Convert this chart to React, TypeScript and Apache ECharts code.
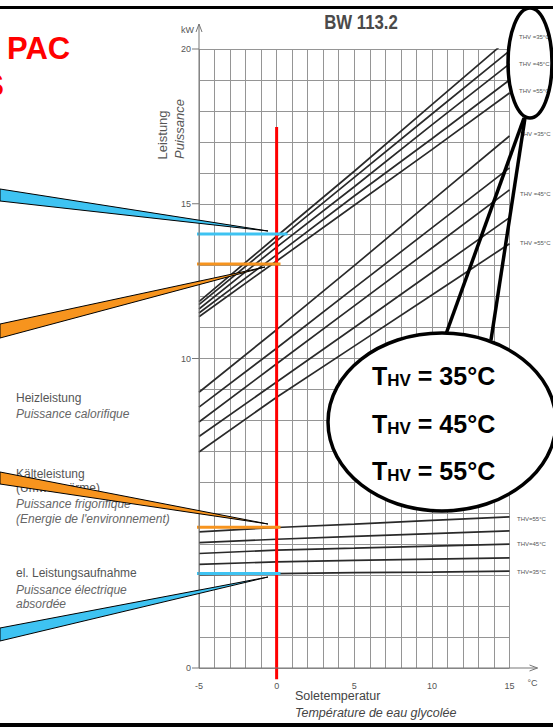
import React, { useEffect, useRef } from "react";
import * as echarts from "echarts";

// ---- data ----
const TEMPS = [-5, 0, 5, 10, 15];
const HEAT_UPPER_1 = [11.84, 13.95, 16.05, 18.2, 20.35];
const HEAT_UPPER_2 = [11.74, 13.8, 15.85, 17.9, 19.94];
const HEAT_UPPER_3 = [11.6, 13.6, 15.55, 17.55, 19.52];
const HEAT_UPPER_4 = [11.47, 13.35, 15.25, 17.1, 19.0];
const HEAT_UPPER_5 = [11.35, 13.15, 14.95, 16.75, 18.58];
const HEAT_LOWER_1 = [8.91, 10.93, 13.0, 15.1, 17.19];
const HEAT_LOWER_2 = [8.43, 10.33, 12.28, 14.22, 16.16];
const HEAT_LOWER_3 = [7.95, 9.83, 11.7, 13.57, 15.45];
const HEAT_LOWER_4 = [7.48, 9.24, 11.0, 12.78, 14.55];
const HEAT_LOWER_5 = [6.98, 8.75, 10.4, 12.05, 13.71];
const LOW_1 = [4.4, 4.54, 4.65, 4.77, 4.88];
const LOW_2 = [4.05, 4.16, 4.25, 4.34, 4.43];
const LOW_3 = [3.7, 3.81, 3.87, 3.94, 4.0];
const LOW_4 = [3.35, 3.43, 3.48, 3.52, 3.56];
const LOW_5 = [3.02, 3.05, 3.08, 3.1, 3.13];

const X_TICKS = [-5, 0, 5, 10, 15];
const Y_TICKS = [0, 10, 15, 20];

const RED_LINE = [[0, -0.36], [0, 17.48]];
const BLUE_HI = [[-7.48, 14.02], [0.7, 14.02]];
const ORANGE_HI = [[-8.0, 13.05], [0.25, 13.05]];
const ORANGE_LO = [[-8.0, 4.55], [0.25, 4.55]];
const BLUE_LO = [[-8.06, 3.05], [0.25, 3.05]];

const LABELS_UPPER = ["THV =35°C", "THV =45°C", "THV =55°C"];
const LABELS_LOWER = ["THV =35°C", "THV =45°C", "THV =55°C"];
const LABELS_BOTTOM = ["THV=55°C", "THV=45°C", "THV=35°C"];
const BUBBLE_TEMPS = ["35°C", "45°C", "55°C"];

const FONT = "'Liberation Sans', Arial, Helvetica, sans-serif";
const BLUE = "#3ec3f2";
const ORANGE = "#f7941e";

export default function App() {
  const ref = useRef<HTMLDivElement | null>(null);

  useEffect(() => {
    if (!ref.current) return;
    const chart = echarts.init(ref.current, null, { renderer: "svg" });

    const curve = (name: string, vals: number[]) => ({
      name,
      type: "line",
      data: TEMPS.map((t, i) => [t, vals[i]]),
      symbol: "none",
      silent: true,
      z: 2,
      lineStyle: { color: "#2a2a2a", width: 1.7 },
    });
    const mark = (name: string, pts: number[][], color: string, width: number, z: number) => ({
      name,
      type: "line",
      data: pts,
      symbol: "none",
      silent: true,
      clip: false,
      z,
      lineStyle: { color, width },
    });

    chart.setOption({
      animation: false,
      backgroundColor: "#fff",
      grid: { left: 199, top: 49, width: 310.5, height: 619 },
      xAxis: {
        type: "value",
        min: -5,
        max: 15,
        interval: 1,
        axisLine: { show: false },
        axisTick: { show: false },
        axisLabel: {
          formatter: (v: number) => (X_TICKS.includes(v) ? String(v) : ""),
          color: "#555",
          fontSize: 9,
          margin: 13,
          fontFamily: FONT,
        },
        splitLine: { show: true, lineStyle: { color: "#959595", width: 1 } },
      },
      yAxis: {
        type: "value",
        min: 0,
        max: 20,
        interval: 1,
        axisLine: { show: false },
        axisTick: { show: false },
        axisLabel: {
          formatter: (v: number) => (Y_TICKS.includes(v) ? String(v) : ""),
          color: "#555",
          fontSize: 9,
          margin: 8,
          fontFamily: FONT,
        },
        splitLine: { show: true, lineStyle: { color: "#959595", width: 1 } },
      },
      series: [
        curve("Heiz oben 1", HEAT_UPPER_1),
        curve("Heiz oben 2", HEAT_UPPER_2),
        curve("Heiz oben 3", HEAT_UPPER_3),
        curve("Heiz oben 4", HEAT_UPPER_4),
        curve("Heiz oben 5", HEAT_UPPER_5),
        curve("Heiz unten 1", HEAT_LOWER_1),
        curve("Heiz unten 2", HEAT_LOWER_2),
        curve("Heiz unten 3", HEAT_LOWER_3),
        curve("Heiz unten 4", HEAT_LOWER_4),
        curve("Heiz unten 5", HEAT_LOWER_5),
        curve("Kälte/el 1", LOW_1),
        curve("Kälte/el 2", LOW_2),
        curve("Kälte/el 3", LOW_3),
        curve("Kälte/el 4", LOW_4),
        curve("Kälte/el 5", LOW_5),
        mark("0°C", RED_LINE, "#ff0000", 3, 3),
        mark("Heiz 35", BLUE_HI, BLUE, 3, 4),
        mark("Heiz 55", ORANGE_HI, ORANGE, 3, 4),
        mark("Kälte", ORANGE_LO, ORANGE, 3, 4),
        mark("el.", BLUE_LO, BLUE, 3, 4),
      ],
    });

    const p = (x: number, y: number) =>
      chart.convertToPixel({ gridIndex: 0 }, [x, y]) as number[];
    const o = p(-5, 0);
    const yTop = p(-5, 20);
    const xEnd = p(15, 0);

    const g: any[] = [];
    // frame
    g.push({ type: "rect", z: 200, shape: { x: 0, y: 6, width: 553, height: 3 }, style: { fill: "#000" } });
    g.push({ type: "rect", z: 200, shape: { x: 0, y: 723, width: 553, height: 4 }, style: { fill: "#000" } });

    // axes with arrows
    const axisColor = "#777";
    g.push({ type: "line", z: 10, shape: { x1: o[0], y1: o[1], x2: o[0], y2: yTop[1] - 25 }, style: { stroke: axisColor, lineWidth: 1 } });
    g.push({ type: "polyline", z: 10, shape: { points: [[o[0] - 3, yTop[1] - 17], [o[0], yTop[1] - 25], [o[0] + 3, yTop[1] - 17]] }, style: { stroke: axisColor, lineWidth: 1, fill: "none" } });
    g.push({ type: "line", z: 10, shape: { x1: o[0], y1: o[1], x2: xEnd[0] + 28, y2: o[1] }, style: { stroke: axisColor, lineWidth: 1 } });
    g.push({ type: "polyline", z: 10, shape: { points: [[xEnd[0] + 20, o[1] - 3], [xEnd[0] + 28, o[1]], [xEnd[0] + 20, o[1] + 3]] }, style: { stroke: axisColor, lineWidth: 1, fill: "none" } });
    Y_TICKS.forEach((v) => {
      const q = p(-5, v);
      g.push({ type: "line", z: 10, shape: { x1: q[0] - 7, y1: q[1], x2: q[0], y2: q[1] }, style: { stroke: axisColor, lineWidth: 1 } });
    });
    g.push({ type: "text", z: 10, style: { text: "kW", x: o[0] - 5, y: yTop[1] - 19, textAlign: "right", textVerticalAlign: "middle", font: `9px ${FONT}`, fill: "#555" } });
    g.push({ type: "text", z: 10, style: { text: "°C", x: xEnd[0] + 18, y: o[1] + 15, textAlign: "left", textVerticalAlign: "middle", font: `9px ${FONT}`, fill: "#555" } });

    // titles
    g.push({ type: "text", z: 10, x: 361, y: 22, scaleX: 0.84, style: { text: "BW 113.2", x: 0, y: 0, textAlign: "center", textVerticalAlign: "middle", font: `bold 20px ${FONT}`, fill: "#4a4a4a" } });
    g.push({ type: "text", z: 10, rotation: Math.PI / 2, x: 162, y: 135, style: { text: "Leistung", x: 0, y: 0, textAlign: "center", textVerticalAlign: "middle", font: `13px ${FONT}`, fill: "#555" } });
    g.push({ type: "text", z: 10, rotation: Math.PI / 2, x: 179, y: 129, style: { text: "Puissance", x: 0, y: 0, textAlign: "center", textVerticalAlign: "middle", font: `italic 13px ${FONT}`, fill: "#555" } });
    g.push({ type: "text", z: 10, style: { text: "Soletemperatur", x: 295, y: 696, textAlign: "left", textVerticalAlign: "middle", font: `12.5px ${FONT}`, fill: "#444" } });
    g.push({ type: "text", z: 10, style: { text: "Température de eau glycolée", x: 295, y: 713, textAlign: "left", textVerticalAlign: "middle", font: `italic 12.5px ${FONT}`, fill: "#444" } });

    // red slide title fragments
    g.push({ type: "text", z: 10, style: { text: "PAC", x: 7, y: 48, textAlign: "left", textVerticalAlign: "middle", font: `bold 31px ${FONT}`, fill: "#ff0000" } });
    g.push({ type: "text", z: 10, style: { text: "S", x: 4, y: 85, textAlign: "right", textVerticalAlign: "middle", font: `bold 31px ${FONT}`, fill: "#ff0000" } });

    // left legend texts
    const leftTexts: [string, number, boolean][] = [
      ["Heizleistung", 398, false],
      ["Puissance calorifique", 414, true],
      ["Kälteleistung", 474, false],
      ["(Umweltwärme)", 488, false],
      ["Puissance frigorifique", 504, true],
      ["(Energie de l'environnement)", 519, true],
      ["el. Leistungsaufnahme", 573, false],
      ["Puissance électrique", 590, true],
      ["absordée", 604, true],
    ];
    leftTexts.forEach(([t, y, it]) => {
      g.push({ type: "text", z: 40, style: { text: t, x: 16, y, textAlign: "left", textVerticalAlign: "middle", font: `${it ? "italic " : ""}12px ${FONT}`, fill: it ? "#666" : "#555" } });
    });

    // small curve labels on the right
    const small = (t: string, x: number, y: number) =>
      g.push({ type: "text", z: 20, style: { text: t, x, y, textAlign: "left", textVerticalAlign: "middle", font: `6px ${FONT}`, fill: "#555" } });
    [37, 64, 91].forEach((y, i) => small(LABELS_UPPER[i], 519, y));
    [134, 194, 243].forEach((y, i) => small(LABELS_LOWER[i], 520, y));
    [519, 544, 572].forEach((y, i) => small(LABELS_BOTTOM[i], 517, y));

    // callout wedges
    const wedge = (pts: number[][], fill: string) =>
      g.push({ type: "polygon", z: 50, shape: { points: pts }, style: { fill, stroke: "#000", lineWidth: 1 } });
    wedge([[0, 189], [268, 231], [0, 201]], BLUE);
    wedge([[0, 324], [265, 267], [0, 338]], ORANGE);
    wedge([[0, 472], [268, 524], [0, 484]], ORANGE);
    wedge([[0, 628], [268, 577], [0, 641]], BLUE);

    // ellipses & callout
    g.push({ type: "ellipse", z: 60, shape: { cx: 530, cy: 63, rx: 22, ry: 55 }, style: { fill: "none", stroke: "#000", lineWidth: 3.5 } });
    g.push({ type: "ellipse", z: 60, shape: { cx: 442, cy: 422, rx: 114, ry: 89 }, style: { fill: "#fff", stroke: "#000", lineWidth: 3.5 } });
    g.push({ type: "line", z: 61, shape: { x1: 446, y1: 334, x2: 524, y2: 118 }, style: { stroke: "#000", lineWidth: 3.5 } });
    g.push({ type: "line", z: 61, shape: { x1: 491, y1: 340, x2: 525, y2: 118 }, style: { stroke: "#000", lineWidth: 3.5 } });
    [376, 424, 471].forEach((y, i) => {
      g.push({
        type: "text",
        z: 62,
        style: {
          text: `{t|T}{s|HV}{n| = ${BUBBLE_TEMPS[i]}}`,
          x: 372,
          y,
          textAlign: "left",
          textVerticalAlign: "middle",
          rich: {
            t: { font: `bold 25px ${FONT}`, fill: "#000", verticalAlign: "bottom" },
            s: { font: `bold 17px ${FONT}`, fill: "#000", verticalAlign: "bottom" },
            n: { font: `bold 25px ${FONT}`, fill: "#000", verticalAlign: "bottom" },
          },
        },
      });
    });

    chart.setOption({ graphic: g });

    return () => chart.dispose();
  }, []);

  return (
    <div
      ref={ref}
      style={{ position: "absolute", left: 0, top: 0, width: 553, height: 727, background: "#fff" }}
    />
  );
}
